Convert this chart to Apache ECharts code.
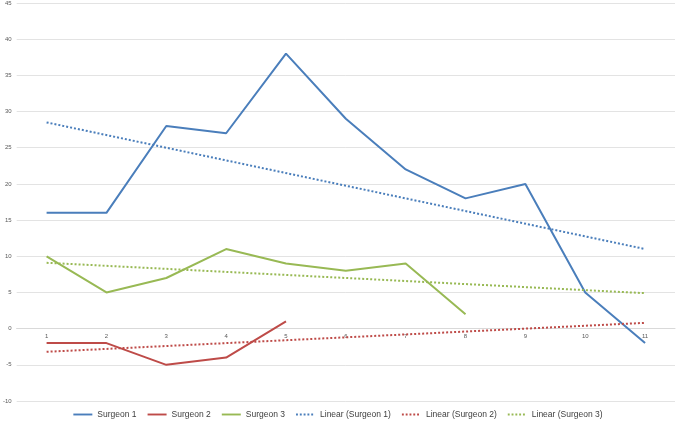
<!DOCTYPE html>
<html>
<head>
<meta charset="utf-8">
<script src="https://cdn.jsdelivr.net/npm/echarts@6/dist/echarts.min.js"></script>
<style>html,body{margin:0;padding:0;background:#fff;}#c{width:676px;height:423px;}</style>
</head>
<body>
<div id="c"></div>
<script>
var categories = ['1','2','3','4','5','6','7','8','9','10','11'];
var surgeon1 = [16, 16, 28, 27, 38, 29, 22, 18, 20, 5, -2];
var surgeon2 = [-2, -2, -5, -4, 1];
var surgeon3 = [10, 5, 7, 11, 9, 8, 9, 2];
// trend line end values (at category 1 and 11)
var trend1 = [28.5, 11.0];
var trend2 = [-3.2, 0.8];
var trend3 = [9.1, 4.9];
var yTicks = [-10, 45, 5];

function ends(pair){
  var a = categories.map(function(){ return null; });
  a[0] = pair[0]; a[a.length-1] = pair[1];
  return a;
}

var blue = '#4A7EBB', red = '#BE4B48', green = '#98B954';
var solidIcon = 'path://M0,0h20v2h-20z';
var dotIcon = 'path://M0,0h2v2h-2zM4,0h2v2h-2zM8,0h2v2h-2zM12,0h2v2h-2zM16,0h2v2h-2zM18,0h2v0.01h-2z';
var chart = echarts.init(document.getElementById('c'));
var txt = '#595959';
var gridTop = 3, gridBottom = 22, H = 423;
var plotH = H - gridTop - gridBottom;
var zeroOffset = -plotH * (0 - yTicks[0]) / (yTicks[1] - yTicks[0]);
chart.setOption({
  animation: false,
  grid: {left: 15, right: 1, top: gridTop, bottom: gridBottom, containLabel: false},
  legend: {
    top: 410, left: 'center', itemWidth: 19, itemHeight: 2, itemGap: 11, padding: [0, 5],
    textStyle: {fontSize: 8.5, color: '#404040', fontFamily: 'Liberation Sans'},
    data: [
      {name: 'Surgeon 1', icon: solidIcon},
      {name: 'Surgeon 2', icon: solidIcon},
      {name: 'Surgeon 3', icon: solidIcon},
      {name: 'Linear (Surgeon 1)', icon: dotIcon},
      {name: 'Linear (Surgeon 2)', icon: dotIcon},
      {name: 'Linear (Surgeon 3)', icon: dotIcon}
    ]
  },
  xAxis: {
    type: 'category', data: categories, boundaryGap: true,
    offset: zeroOffset,
    axisLine: {show: true, onZero: false, lineStyle: {color: '#d9d9d9', width: 1}},
    axisTick: {show: false},
    axisLabel: {fontSize: 6, color: txt, margin: 5, interval: 0}
  },
  yAxis: {
    type: 'value', min: yTicks[0], max: yTicks[1], interval: yTicks[2],
    axisLine: {show: false}, axisTick: {show: false},
    axisLabel: {fontSize: 6, color: txt, margin: 5},
    splitLine: {lineStyle: {color: '#e3e3e3', width: 1}}
  },
  series: [
    {name: 'Surgeon 1', type: 'line', data: surgeon1, symbol: 'none', lineStyle: {color: blue, width: 2}, itemStyle: {color: blue}},
    {name: 'Surgeon 2', type: 'line', data: surgeon2, symbol: 'none', lineStyle: {color: red, width: 2}, itemStyle: {color: red}},
    {name: 'Surgeon 3', type: 'line', data: surgeon3, symbol: 'none', lineStyle: {color: green, width: 2}, itemStyle: {color: green}},
    {name: 'Linear (Surgeon 1)', type: 'line', data: ends(trend1), connectNulls: true, symbol: 'none', lineStyle: {color: blue, width: 2, type: [2, 2]}, itemStyle: {color: blue}},
    {name: 'Linear (Surgeon 2)', type: 'line', data: ends(trend2), connectNulls: true, symbol: 'none', lineStyle: {color: red, width: 2, type: [2, 2]}, itemStyle: {color: red}},
    {name: 'Linear (Surgeon 3)', type: 'line', data: ends(trend3), connectNulls: true, symbol: 'none', lineStyle: {color: green, width: 2, type: [2, 2]}, itemStyle: {color: green}}
  ]
});
</script>
</body>
</html>
